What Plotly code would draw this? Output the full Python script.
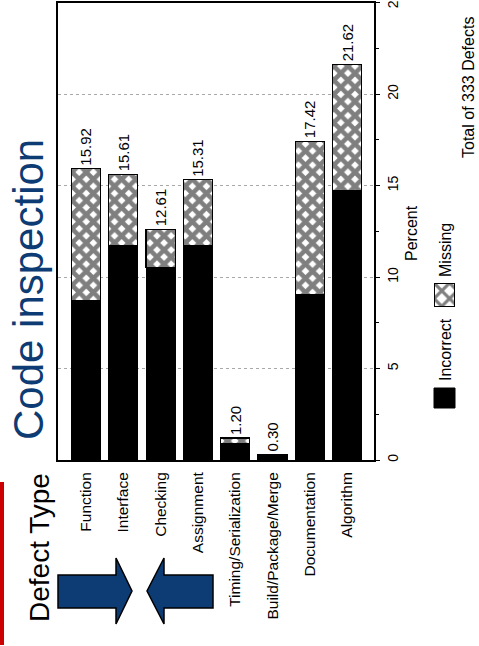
import plotly.graph_objects as go

W, H = 479, 646

categories = ["Function", "Interface", "Checking", "Assignment",
              "Timing/Serialization", "Build/Package/Merge", "Documentation", "Algorithm"]
totals = [15.92, 15.61, 12.61, 15.31, 1.20, 0.30, 17.42, 21.62]
incorrect = [8.71, 11.71, 10.51, 11.71, 0.90, 0.30, 9.01, 14.71]
missing = [round(t - i, 2) for t, i in zip(totals, incorrect)]
percent_ticks = [0, 5, 10, 15, 20, 25]
value_labels = [f"{t:.2f}" for t in totals]

FONT = "Liberation Sans, Arial, Helvetica, sans-serif"
NAVY = "#0d3b73"

def px(x):
    return x / W

def py(y):
    return 1 - y / H

fig = go.Figure()
fig.add_trace(go.Bar(
    x=categories, y=incorrect, name="Incorrect", width=0.78,
    marker=dict(color="black", line=dict(color="black", width=1)),
    showlegend=False,
))
fig.add_trace(go.Bar(
    x=categories, y=missing, name="Missing", width=0.78,
    marker=dict(color="white", line=dict(color="black", width=1.3),
                pattern=dict(shape="x", fgcolor="black", bgcolor="white",
                             size=10, solidity=0.7)),
    text=value_labels, textposition="outside", textangle=-90,
    textfont=dict(family=FONT, size=15, color="black"),
    constraintext="none", cliponaxis=False,
    showlegend=False,
))

# legend hatched swatch as a tiny bar on its own axes
fig.add_trace(go.Bar(
    x=[0], y=[1], width=1, showlegend=False,
    marker=dict(color="white", line=dict(color="black", width=2.5),
                pattern=dict(shape="x", fgcolor="black", bgcolor="white",
                             size=11, solidity=0.5)),
    hoverinfo="skip",
))
fig.data[2].update(xaxis="x2", yaxis="y2")

fig.update_layout(
    width=W, height=H,
    margin=dict(l=0, r=0, t=0, b=0),
    paper_bgcolor="white", plot_bgcolor="white",
    barmode="stack", bargap=0.22,
    font=dict(family=FONT, color="black"),
    xaxis=dict(
        domain=[px(58), px(374)], range=[-0.75, 7.72],
        tickangle=-90, tickfont=dict(size=15.5, family=FONT),
        showline=True, linecolor="black", linewidth=2, mirror=True,
        ticks="", showgrid=False, automargin=False, fixedrange=True,
        ticklabelstandoff=4,
    ),
    yaxis=dict(
        domain=[py(460), py(2.5)], range=[0, 25], side="right",
        tickvals=percent_ticks, tickangle=-90,
        tickfont=dict(size=14, family=FONT),
        ticks="outside", ticklen=4, tickcolor="black",
        minor=dict(dtick=2.5, ticks="outside", ticklen=3, tickcolor="black", showgrid=False),
        showline=True, linecolor="black", linewidth=1.6, mirror=True,
        showgrid=True, gridcolor="#a8a8a8", griddash="dot", gridwidth=1,
        zeroline=False, automargin=False, fixedrange=True,
        ticklabelstandoff=1, ticklabeloverflow="allow",
    ),
    xaxis2=dict(domain=[px(434), px(455)], range=[-0.5, 0.5], visible=False,
                fixedrange=True, anchor="y2"),
    yaxis2=dict(domain=[py(307), py(283)], range=[0, 1], visible=False,
                fixedrange=True, anchor="x2"),
)

annotations = [
    dict(text="Code inspection", x=px(28), y=py(290), textangle=-90,
         font=dict(size=42, color=NAVY, family=FONT)),
    dict(text="Defect Type", x=px(39), y=py(548), textangle=-90,
         font=dict(size=28, color="black", family=FONT)),
    dict(text="Percent", x=px(412), y=py(233), textangle=-90,
         font=dict(size=16, color="black", family=FONT)),
    dict(text="Incorrect", x=px(445), y=py(350), textangle=-90,
         font=dict(size=16, color="black", family=FONT)),
    dict(text="Missing", x=px(445), y=py(250), textangle=-90,
         font=dict(size=16, color="black", family=FONT)),
    dict(text="Total of 333 Defects", x=px(468), y=py(88), textangle=-90,
         font=dict(size=16, color="black", family=FONT)),
]
for a in annotations:
    a.update(xref="paper", yref="paper", showarrow=False,
             xanchor="center", yanchor="middle")
fig.update_layout(annotations=annotations)

def poly(points):
    return "M " + " L ".join(f"{px(x)},{py(y)}" for x, y in points) + " Z"

shapes = [
    # legend black swatch
    dict(type="rect", x0=px(434), x1=px(455), y0=py(408), y1=py(388),
         fillcolor="black", line=dict(color="black", width=1)),
    # red vertical bar
    dict(type="rect", x0=px(0), x1=px(4), y0=py(645), y1=py(482),
         fillcolor="#cc0000", line=dict(width=0)),
    # right-pointing arrow
    dict(type="path", path=poly([(58, 575), (116, 575), (116, 558), (132, 591),
                                 (116, 624), (116, 608), (58, 608)]),
         fillcolor=NAVY, line=dict(color="black", width=1.5)),
    # left-pointing arrow
    dict(type="path", path=poly([(213, 575), (164, 575), (164, 558), (147, 591),
                                 (164, 624), (164, 608), (213, 608)]),
         fillcolor=NAVY, line=dict(color="black", width=1.5)),
]
for s in shapes:
    s.update(xref="paper", yref="paper")
fig.update_layout(shapes=shapes)

fig.write_html("out.html", config={"displayModeBar": False},
               post_script="document.body.style.margin='0px';")
